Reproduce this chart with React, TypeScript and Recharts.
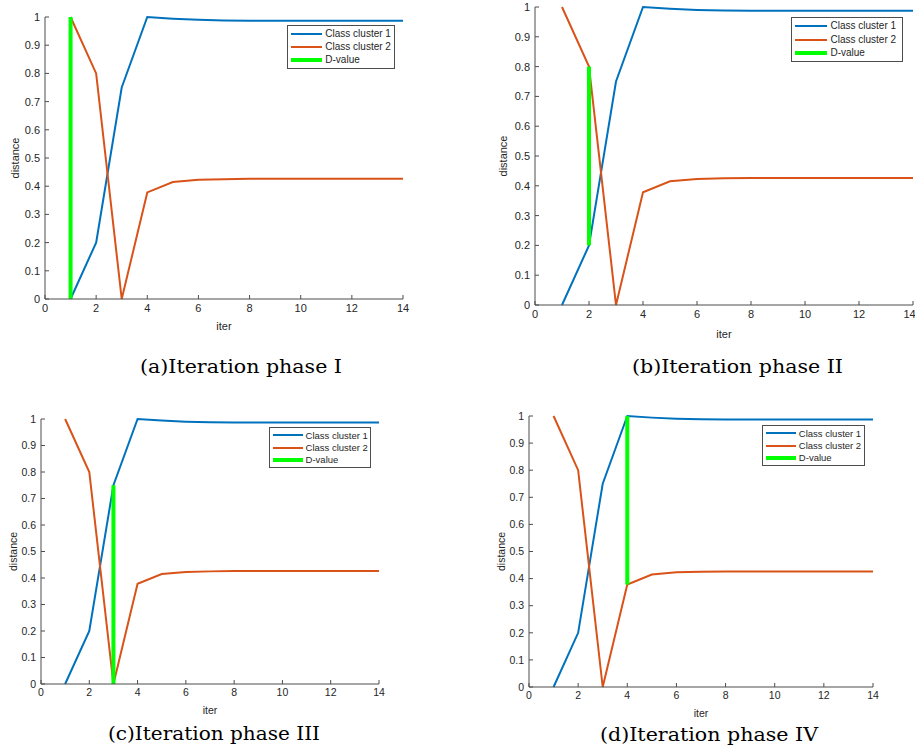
import React from "react";
import { LineChart, Line, XAxis, YAxis } from "recharts";

// values
const iters = [1, 2, 3, 4, 5, 6, 7, 8, 9, 10, 11, 12, 13, 14];
const cluster1 = [0, 0.2, 0.75, 1.0, 0.994, 0.99, 0.988, 0.987, 0.987, 0.987, 0.987, 0.987, 0.987, 0.987];
const cluster2 = [1.0, 0.8, 0, 0.378, 0.415, 0.423, 0.425, 0.426, 0.426, 0.426, 0.426, 0.426, 0.426, 0.426];

// D-value segment per phase
const dIter = [1, 2, 3, 4];
const dLow = [0, 0.2, 0, 0.378];
const dHigh = [1.0, 0.8, 0.75, 1.0];

const xTicks = [0, 2, 4, 6, 8, 10, 12, 14];
const yTicks = [0, 0.1, 0.2, 0.3, 0.4, 0.5, 0.6, 0.7, 0.8, 0.9, 1];
const captions = ["(a)Iteration phase I", "(b)Iteration phase II", "(c)Iteration phase III", "(d)Iteration phase IV"];
const legendNames = ["Class cluster 1", "Class cluster 2", "D-value"];

const BLUE = "#0072BD";
const ORANGE = "#D95319";
const GREEN = "#00FF00";
const AXIS = "#4d4d4d";
const TEXT = "#262626";

const data = iters.map((it, i) => ({ iter: it, c1: cluster1[i], c2: cluster2[i] }));

const panels = [
  { left: 0, top: 0, w: 410, h: 335, mt: 17, mr: 7, yW: 45, xH: 36, iterOff: 5, distOff: 15, fs: 11,
    lg: { left: 287, top: 25, w: 108, h: 44, fs: 10 }, cap: { x: 140, w: 202, y: 373 } },
  { left: 490, top: 0, w: 425, h: 345, mt: 7, mr: 2, yW: 45, xH: 40, iterOff: 7, distOff: 13, fs: 11,
    lg: { left: 301, top: 17, w: 112, h: 45, fs: 10 }, cap: { x: 632, w: 211, y: 373 } },
  { left: 0, top: 400, w: 390, h: 320, mt: 19, mr: 11, yW: 41, xH: 36, iterOff: 6, distOff: 13, fs: 10.5,
    lg: { left: 269, top: 27, w: 102, h: 41, fs: 9.5 }, cap: { x: 108, w: 212, y: 740 } },
  { left: 490, top: 400, w: 395, h: 320, mt: 16, mr: 12, yW: 39, xH: 33, iterOff: 3, distOff: 11, fs: 10.5,
    lg: { left: 272, top: 25, w: 103, h: 41, fs: 9.5 }, cap: { x: 600, w: 218, y: 741 } },
];

const fmt = (v: number) => String(+v.toFixed(1));

function LegendBox({ lg }: { lg: any }) {
  const colors = [BLUE, ORANGE, GREEN];
  return (
    <div
      style={{
        position: "absolute", left: lg.left, top: lg.top, width: lg.w, height: lg.h,
        border: "1px solid #4d4d4d", background: "#fff", boxSizing: "border-box",
        display: "flex", flexDirection: "column", justifyContent: "space-evenly",
        fontFamily: "'Liberation Sans', Arial, sans-serif", fontSize: lg.fs, color: TEXT,
      }}
    >
      {legendNames.map((n, i) => (
        <div key={n} style={{ display: "flex", alignItems: "center" }}>
          <div style={{ marginLeft: 3, width: lg.w * 0.29, height: i === 2 ? 4 : 2, background: colors[i] }} />
          <span style={{ marginLeft: 3, lineHeight: 1, whiteSpace: "nowrap" }}>{n}</span>
        </div>
      ))}
    </div>
  );
}

function Panel({ p, idx }: { p: any; idx: number }) {
  const tick = { fontSize: p.fs, fill: TEXT, fontFamily: "'Liberation Sans', Arial, sans-serif" };
  const seg = [
    { iter: dIter[idx], v: dLow[idx] },
    { iter: dIter[idx], v: dHigh[idx] },
  ];
  return (
    <div style={{ position: "absolute", left: p.left, top: p.top, width: p.w, height: p.h }}>
      <LineChart width={p.w} height={p.h} data={data} margin={{ top: p.mt, right: p.mr, left: 0, bottom: 0 }}>
        <XAxis
          dataKey="iter" type="number" domain={[0, 14]} ticks={xTicks} height={p.xH}
          stroke={AXIS} tick={tick} tickSize={-4} tickMargin={9} allowDataOverflow
          label={{ value: "iter", position: "insideBottom", offset: p.iterOff, style: { ...tick } }}
        />
        <YAxis
          type="number" domain={[0, 1]} ticks={yTicks} width={p.yW} tickFormatter={fmt}
          stroke={AXIS} tick={tick} tickSize={-4} tickMargin={9}
          label={{ value: "distance", angle: -90, position: "insideLeft", offset: p.distOff, style: { ...tick, textAnchor: "middle" } }}
        />
        <Line dataKey="c1" stroke={BLUE} strokeWidth={2} dot={false} isAnimationActive={false} />
        <Line dataKey="c2" stroke={ORANGE} strokeWidth={2} dot={false} isAnimationActive={false} />
        <Line data={seg} dataKey="v" stroke={GREEN} strokeWidth={4} dot={false} isAnimationActive={false} />
      </LineChart>
      <LegendBox lg={p.lg} />
    </div>
  );
}

export default function App() {
  return (
    <div style={{ position: "absolute", left: 0, top: 0, width: 915, height: 755, background: "#fff" }}>
      {panels.map((p, i) => (
        <Panel key={i} p={p} idx={i} />
      ))}
      <svg width={915} height={755} style={{ position: "absolute", left: 0, top: 0, pointerEvents: "none" }}>
        {panels.map((p, i) => (
          <text
            key={i} x={p.cap.x} y={p.cap.y} textLength={p.cap.w} lengthAdjust="spacingAndGlyphs"
            fontFamily="'DejaVu Serif', serif" fontSize={18.5} fill="#000"
          >
            {captions[i]}
          </text>
        ))}
      </svg>
    </div>
  );
}
